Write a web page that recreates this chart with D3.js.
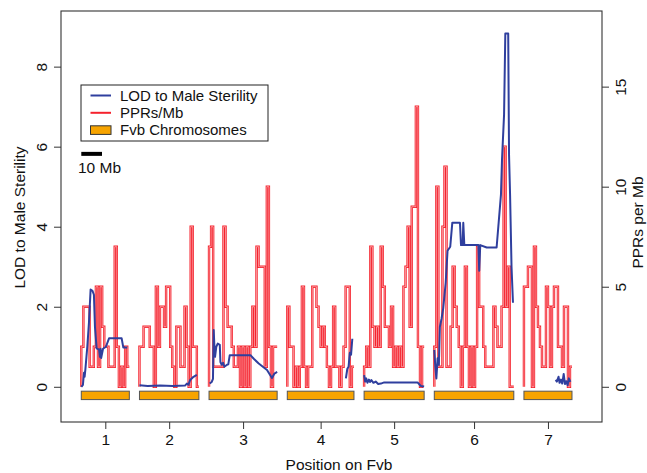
<!DOCTYPE html>
<html>
<head>
<meta charset="utf-8">
<script src="https://cdn.jsdelivr.net/npm/d3@7"></script>
<style>
  body { margin: 0; background: #fff; }
  svg text { font-family: "Liberation Sans", Arial, Helvetica, sans-serif; fill: #111; }
</style>
</head>
<body>
<svg id="chart" width="647" height="473"></svg>
<script>
// ---- data ----
var chromNames = ["1", "2", "3", "4", "5", "6", "7"];
var chromLengths = [23.2, 28.7, 32.9, 32.2, 29.0, 38.4, 23.2];   // Mb
var chromGap = 4.9;                                              // Mb between chromosomes

// PPRs per Mb, one value per ~1 Mb bin
var pprChr1 = [2,4,4,4,1,1,2,5,1,5,3,2,2,1,1,1,7,2,0,1,0,2,1];
var pprChr2 = [2,2,3,3,3,2,2,0,5,2,4,4,3,5,5,2,1,0,3,3,1,1,4,2,0,8,2,2,0];
var pprChr3 = [7,8,1,1,1,1,1,8,4,3,3,2,1,1,2,0,2,0,2,0,2,4,2,7,6,6,6,1,10,2,0,2,2];
var pprChr4 = [4,2,2,0,1,0,1,5,1,0,1,1,5,5,4,3,2,3,2,1,0,1,4,1,1,0,1,2,5,5,0,1];
var pprChr5 = [1,2,1,7,3,2,3,2,7,5,3,3,2,4,1,2,1,2,1,5,6,8,3,9,9,14,2,0,2];
var pprChr6 = [2,10,1,1,8,11,1,1,3,6,4,3,2,0,2,6,2,0,2,0,2,7,4,4,2,1,1,1,1,4,3,2,2,4,12,4,6,0,0];
var pprChr7 = [5,5,6,6,0,7,4,3,2,1,1,5,4,1,4,5,5,2,2,1,4,4,0,1];

// LOD to male sterility: [position in Mb, LOD]
var lodChr1 = [[0,0],[0.8,0.05],[1.3,0.35],[1.6,0.25],[2.0,0.45],[2.9,1.0],[3.7,1.6],[4.5,2.43],[5.4,2.4],[6.1,2.3],
  [6.6,1.5],[7.4,0.96],[8.6,0.93],[9.0,0.75],[9.3,0.95],[9.6,0.72],[10.5,0.95],[11.9,1.0],[13.4,1.21],[19.5,1.21],[20.3,0.98],[22.2,0.98]];
var lodChr2 = [[0,0.04],[4,0.02],[10,0.03],[16,0.02],[22,0.03],[22.9,0.08],[23.6,0.05],[24.5,0.17],[26.1,0.25],[27.7,0.3]];
var lodChr3 = [[0.3,0.08],[1.3,0.12],[1.9,0.2],[2.25,1.42],[2.6,1.0],[2.9,0.75],[3.5,1.0],[4.2,1.08],[5.2,1.05],[5.5,0.62],
  [6.1,0.55],[6.8,0.6],[7.4,0.5],[8.7,0.55],[9.3,0.56],[10,0.79],[20,0.79],[21.6,0.7],[24,0.58],[28,0.42],[30.4,0.22],[31.6,0.33],[32.9,0.37]];
var lodChr4 = [[28.3,0.21],[29.0,0.45],[29.6,0.5],[30.2,0.85],[30.8,0.8],[31.4,1.2]];
var lodChr5 = [[0,0.29],[0.5,0.13],[1.0,0.21],[1.6,0.1],[2.3,0.18],[2.9,0.12],[3.5,0.17],[4.5,0.1],[5.6,0.13],[6.8,0.07],
  [8.1,0.08],[9.7,0.11],[25.8,0.11],[27.4,0.02],[29.0,0.01]];
var lodChr6 = [[0,0.92],[0.5,0.5],[1.0,0.21],[1.6,0.71],[2.2,0.55],[2.7,1.5],[3.5,1.7],[4.3,1.96],[5.5,2.6],[6.4,3.4],
  [7.7,3.5],[8.7,4.1],[12.4,4.1],[12.9,3.54],[13.7,3.54],[14.0,4.1],[14.5,3.54],[21.3,3.54],[21.7,2.9],[22.2,3.54],
  [25.3,3.48],[30.1,3.48],[32.2,4.8],[32.7,5.67],[33.7,6.8],[34.3,8.83],[35.7,8.83],[36.1,5.8],[36.6,4.8],[37.3,3.0],[38.0,2.1]];
var lodChr7 = [[15.3,0.17],[15.9,0.13],[16.7,0.25],[17.2,0.1],[17.9,0.18],[18.5,0.08],[19.2,0.32],[19.8,0.07],
  [20.4,0.14],[21.1,0.04],[21.7,0.21],[22.4,0.12]];

var lodTicks = [0, 2, 4, 6, 8];
var pprTicks = [0, 5, 10, 15];
var scaleBarMb = 10;

var pprByChr = [pprChr1, pprChr2, pprChr3, pprChr4, pprChr5, pprChr6, pprChr7];
var lodByChr = [lodChr1, lodChr2, lodChr3, lodChr4, lodChr5, lodChr6, lodChr7];

// ---- layout ----
var svg = d3.select("#chart");
var plotL = 61, plotR = 602, plotT = 11, plotB = 422;
var fontSize = 15.5;

var chromStarts = [];
var acc = 0;
chromLengths.forEach(function(L) { chromStarts.push(acc); acc += L + chromGap; });
var chromCenters = chromStarts.map(function(s, i) { return s + chromLengths[i] / 2; });

var x = d3.scaleLinear().domain([-9.8, 251.5]).range([plotL, plotR]);
var yLod = d3.scaleLinear().domain([-0.88, 9.39]).range([plotB, plotT]);
var yPpr = d3.scaleLinear().domain([-1.76, 18.78]).range([plotB, plotT]);

// ---- PPR step lines ----
var pprLine = d3.line()
  .x(function(d) { return x(d[0]); })
  .y(function(d) { return yPpr(d[1]); })
  .curve(d3.curveStepAfter);

var pprPoints = pprByChr.map(function(vals, i) {
  var w = chromLengths[i] / vals.length;
  var pts = [[chromStarts[i], 0]];
  vals.forEach(function(v, j) { pts.push([chromStarts[i] + j * w, v]); });
  pts.push([chromStarts[i] + chromLengths[i], vals[vals.length - 1]]);
  return pts;
});

var gPpr = svg.append("g");
gPpr.selectAll("path.outer").data(pprPoints).enter()
  .append("path").attr("class", "outer")
  .attr("d", pprLine)
  .attr("fill", "none")
  .attr("stroke", "#f5222d")
  .attr("stroke-width", 2.4);
gPpr.selectAll("path.inner").data(pprPoints).enter()
  .append("path").attr("class", "inner")
  .attr("d", pprLine)
  .attr("fill", "none")
  .attr("stroke", "#fff")
  .attr("stroke-opacity", 0.7)
  .attr("stroke-width", 0.7);

// ---- LOD lines ----
var lodLine = d3.line()
  .x(function(d) { return x(d[0]); })
  .y(function(d) { return yLod(d[1]); });

svg.append("g").selectAll("path").data(lodByChr.map(function(pts, i) {
    return pts.map(function(p) { return [chromStarts[i] + p[0], p[1]]; });
  })).enter()
  .append("path")
  .attr("d", lodLine)
  .attr("fill", "none")
  .attr("stroke", "#2f3f9e")
  .attr("stroke-width", 2)
  .attr("stroke-linejoin", "round");

// ---- chromosome bars ----
svg.append("g").selectAll("rect").data(chromStarts).enter()
  .append("rect")
  .attr("x", function(d) { return x(d); })
  .attr("width", function(d, i) { return x(d + chromLengths[i]) - x(d); })
  .attr("y", yLod(-0.11))
  .attr("height", yLod(-0.32) - yLod(-0.11))
  .attr("fill", "#f7a400")
  .attr("stroke", "#555")
  .attr("stroke-width", 1);

// ---- axes ----
function styleAxis(g) {
  g.select(".domain").remove();
  g.selectAll(".tick line").attr("stroke", "#333");
  g.selectAll(".tick text").style("font-size", fontSize + "px").attr("fill", "#111");
}

var axL = svg.append("g").attr("transform", "translate(" + plotL + ",0)")
  .call(d3.axisLeft(yLod).tickValues(lodTicks).tickSize(7).tickFormat(d3.format("d")));
styleAxis(axL);
axL.selectAll(".tick text").attr("x", null).attr("dy", null).attr("text-anchor", "middle")
  .attr("transform", "translate(-14,0) rotate(-90)");

var axR = svg.append("g").attr("transform", "translate(" + plotR + ",0)")
  .call(d3.axisRight(yPpr).tickValues(pprTicks).tickSize(7).tickFormat(d3.format("d")));
styleAxis(axR);
axR.selectAll(".tick text").attr("x", null).attr("dy", null).attr("text-anchor", "middle")
  .attr("transform", "translate(23.5,0) rotate(-90)");

var axB = svg.append("g").attr("transform", "translate(0," + plotB + ")")
  .call(d3.axisBottom(x).tickValues(chromCenters).tickSize(7).tickPadding(5)
    .tickFormat(function(d, i) { return chromNames[i]; }));
styleAxis(axB);

// plot box
svg.append("rect")
  .attr("x", plotL).attr("y", plotT)
  .attr("width", plotR - plotL).attr("height", plotB - plotT)
  .attr("fill", "none").attr("stroke", "#333").attr("stroke-width", 1.1);

// axis titles
svg.append("text").attr("text-anchor", "middle").style("font-size", fontSize + "px")
  .attr("transform", "translate(25,217.5) rotate(-90)")
  .text("LOD to Male Sterility");
svg.append("text").attr("text-anchor", "middle").style("font-size", fontSize + "px")
  .attr("transform", "translate(643,222.5) rotate(-90)")
  .text("PPRs per Mb");
svg.append("text").attr("text-anchor", "middle").style("font-size", fontSize + "px")
  .attr("x", 339).attr("y", 470)
  .text("Position on Fvb");

// ---- legend ----
var legFont = 15;
var legend = svg.append("g");
legend.append("rect")
  .attr("x", 81).attr("y", 85).attr("width", 187).attr("height", 56)
  .attr("fill", "#fff").attr("stroke", "#222").attr("stroke-width", 1);
var legItems = [
  {label: "LOD to Male Sterility", type: "line", color: "#2f3f9e"},
  {label: "PPRs/Mb", type: "line", color: "#f5222d"},
  {label: "Fvb Chromosomes", type: "rect", color: "#f7a400"}
];
legItems.forEach(function(d, i) {
  var cy = 95.5 + i * 17.3;
  if (d.type === "line") {
    legend.append("line").attr("x1", 90.5).attr("x2", 111).attr("y1", cy).attr("y2", cy)
      .attr("stroke", d.color).attr("stroke-width", 2);
  } else {
    legend.append("rect").attr("x", 90.5).attr("y", cy - 4.3).attr("width", 20.5).attr("height", 8.6)
      .attr("fill", d.color).attr("stroke", "#333").attr("stroke-width", 1);
  }
  legend.append("text").attr("x", 120).attr("y", cy + 5.3)
    .style("font-size", legFont + "px").text(d.label);
});

// ---- 10 Mb scale bar ----
svg.append("line")
  .attr("x1", x(0)).attr("x2", x(scaleBarMb))
  .attr("y1", yLod(5.82)).attr("y2", yLod(5.82))
  .attr("stroke", "#000").attr("stroke-width", 4);
svg.append("text").attr("x", 78).attr("y", 173.3)
  .style("font-size", fontSize + "px").text(scaleBarMb + " Mb");
</script>
</body>
</html>
